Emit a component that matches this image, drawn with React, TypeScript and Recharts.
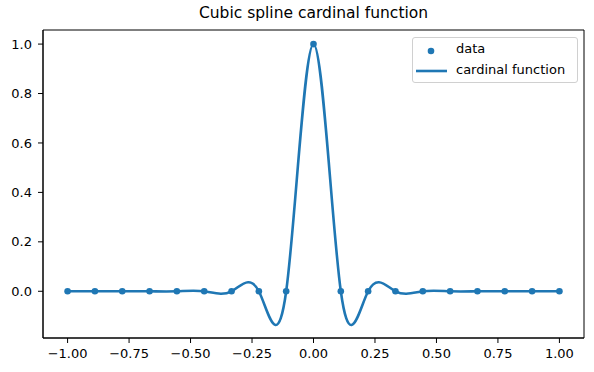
import { ComposedChart, Line, Scatter, XAxis, YAxis, ReferenceArea } from "recharts";

// knots and the cardinal values at them (1 at the centre, 0 elsewhere)
const knotX = [
  -1, -0.8889, -0.7778, -0.6667, -0.5556, -0.4444, -0.3333, -0.2222, -0.1111, 0,
  0.1111, 0.2222, 0.3333, 0.4444, 0.5556, 0.6667, 0.7778, 0.8889, 1,
];
const knotY = [0, 0, 0, 0, 0, 0, 0, 0, 0, 1, 0, 0, 0, 0, 0, 0, 0, 0, 0];

const xTicks = [-1, -0.75, -0.5, -0.25, 0, 0.25, 0.5, 0.75, 1];
const yTicks = [0, 0.2, 0.4, 0.6, 0.8, 1.0];
const xDomain = [-1.1, 1.1];
const yDomain = [-0.189, 1.057];

const points = knotX.map((x, i) => ({ x, y: knotY[i] }));

const BLUE = "#1f77b4";
const FONT = "DejaVu Sans, sans-serif";

const fmtX = (v: number) => v.toFixed(2).replace("-", "\u2212");
const fmtY = (v: number) => v.toFixed(1).replace("-", "\u2212");

const LegendBox = () => (
  <div
    style={{
      position: "absolute",
      left: 412,
      top: 37,
      width: 164,
      height: 44,
      border: "1px solid #d0d0d0",
      borderRadius: 3,
      background: "rgba(255,255,255,0.8)",
      fontFamily: FONT,
      fontSize: 13,
      color: "#000",
    }}
  >
    <svg width={40} height={44} style={{ position: "absolute", left: 0, top: 0 }}>
      <circle cx={18} cy={13} r={3.3} fill={BLUE} />
      <line x1={3} x2={34} y1={33} y2={33} stroke={BLUE} strokeWidth={2.6} />
    </svg>
    <div style={{ position: "absolute", left: 43, top: 3 }}>data</div>
    <div style={{ position: "absolute", left: 43, top: 24 }}>cardinal function</div>
  </div>
);

export default function App() {
  return (
    <div style={{ position: "absolute", left: 0, top: 0, width: 594, height: 372, background: "#fff" }}>
      <div
        style={{
          position: "absolute",
          left: 43,
          width: 541,
          top: 4,
          textAlign: "center",
          fontFamily: FONT,
          fontSize: 15.5,
          color: "#000",
        }}
      >
        Cubic spline cardinal function
      </div>
      <ComposedChart
        width={594}
        height={372}
        data={points}
        margin={{ top: 30, right: 10, bottom: 0, left: 0 }}
      >
        <XAxis
          type="number"
          dataKey="x"
          domain={xDomain}
          ticks={xTicks}
          tickFormatter={fmtX}
          height={34}
          tickSize={5}
          tickMargin={6}
          stroke="#000"
          tick={{ fill: "#000", fontSize: 13, fontFamily: FONT }}
        />
        <YAxis
          type="number"
          domain={yDomain}
          ticks={yTicks}
          tickFormatter={fmtY}
          width={43}
          tickSize={5}
          tickMargin={6}
          stroke="#000"
          tick={{ fill: "#000", fontSize: 13, fontFamily: FONT }}
        />
        <ReferenceArea
          x1={xDomain[0]}
          x2={xDomain[1]}
          y1={yDomain[0]}
          y2={yDomain[1]}
          fill="none"
          stroke="#000"
          strokeWidth={1}
          ifOverflow="visible"
        />
        <Line
          type="natural"
          dataKey="y"
          stroke={BLUE}
          strokeWidth={2.6}
          dot={false}
          activeDot={false}
          isAnimationActive={false}
        />
        <Scatter
          data={points}
          dataKey="y"
          fill={BLUE}
          shape={(p: any) => <circle cx={p.cx} cy={p.cy} r={3.3} fill={BLUE} />}
          isAnimationActive={false}
        />
      </ComposedChart>
      <LegendBox />
    </div>
  );
}
